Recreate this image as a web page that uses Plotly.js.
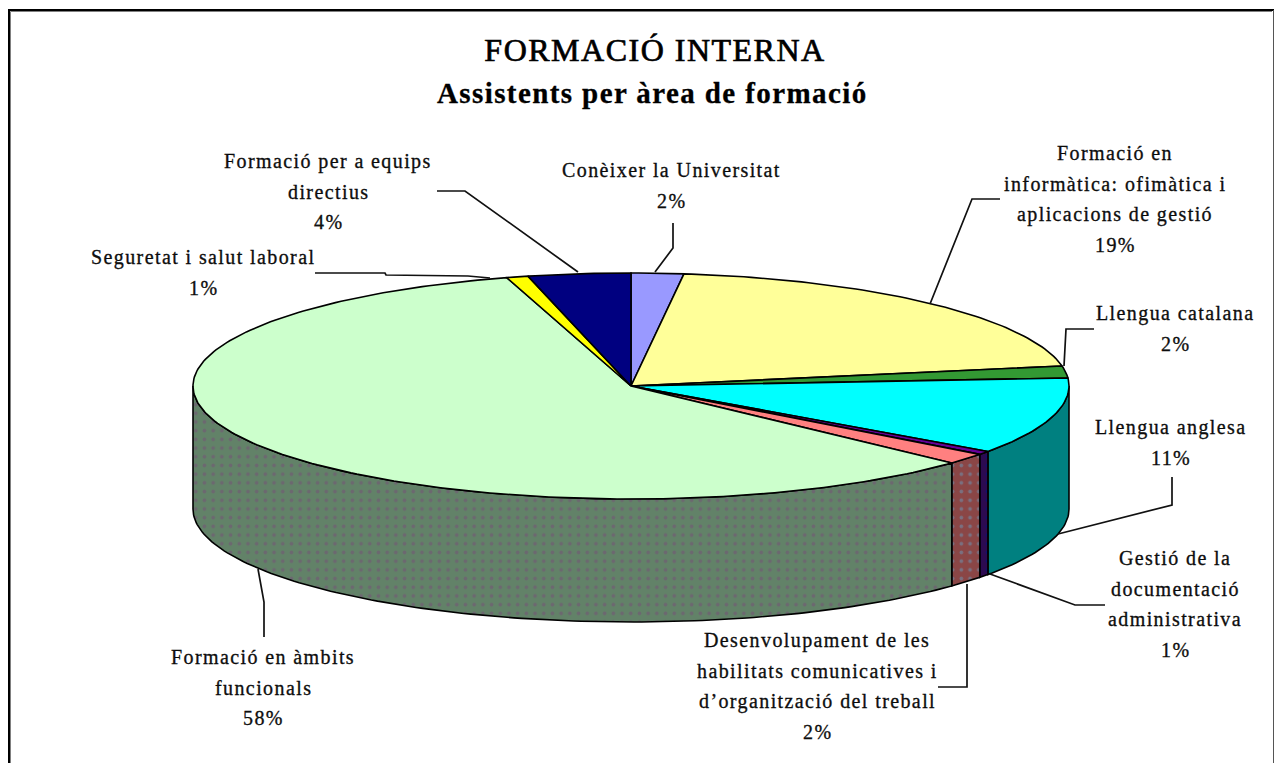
<!DOCTYPE html>
<html>
<head>
<meta charset="utf-8">
<script src="https://cdn.plot.ly/plotly-3.0.1.min.js"></script>
<style>
html,body{margin:0;padding:0;background:#fff;overflow:hidden}
#chart{width:1275px;height:763px}
.annotation-text{letter-spacing:1.4px;stroke:#000;stroke-width:0.3px}
.gtitle{letter-spacing:1.5px;stroke:#000;stroke-width:0.7px}
</style>
</head>
<body>
<div id="chart"></div>
<script>
// Data, clockwise from the top of the pie
const categories = ["Conèixer la Universitat","Formació en informàtica: ofimàtica i aplicacions de gestió","Llengua catalana","Llengua anglesa","Gestió de la documentació administrativa","Desenvolupament de les habilitats comunicatives i d’organització del treball","Formació en àmbits funcionals","Seguretat i salut laboral","Formació per a equips directius"];
// share of the circle as drawn in the picture
const drawnShare = [1.93,20.24,1.70,10.97,0.50,1.58,58.50,0.80,3.78];
const percentLabels = ["2%","19%","2%","11%","1%","2%","58%","1%","4%"];
const labelLines = [
  ["Conèixer la Universitat"],
  ["Formació en","informàtica: ofimàtica i","aplicacions de gestió"],
  ["Llengua catalana"],
  ["Llengua anglesa"],
  ["Gestió de la","documentació","administrativa"],
  ["Desenvolupament de les","habilitats comunicatives i","d’organització del treball"],
  ["Formació en àmbits","funcionals"],
  ["Seguretat i salut laboral"],
  ["Formació per a equips","directius"]
];
const topColors = ["#9999ff","#ffff99","#339933","#00ffff","#660099","#ff8080","#ccffcc","#ffff00","#000080"];
const wallBg = ["#4d4d99","#808050","#1a4d1a","#008080","#2c0a50","#8a4646","#628268","#808000","#000040"];
const wallDot = [null,null,null,null,"#10106e","#7a7080","#6c6870",null,null];

// Layout constants (pixel-scaled axes)
const cx=631, cy=386, rx=438, ry=113, depth=123;
const labelX=[671,1115,1175,1171,1175,817,263,203,328];
const labelY=[170,153,313,427,558,640,657,257,161];
const lineGap=30.6;
const leaders=[
  [[673,223],[673,248],[655,272]],
  [[1000,199],[972,199],[930,304]],
  [[1094,329],[1066,329],[1064,366]],
  [[1172,477],[1172,505],[1058,534]],
  [[1105,605],[1075,605],[990,574]],
  [[938,687],[967,687],[967,584]],
  [[264,637],[264,602],[258,569]],
  [[315,273],[385,273],[386,275],[468,276],[490,278]],
  [[437,191],[465,191],[578,272]]
];

const total=drawnShare.reduce((a,b)=>a+b,0);
let run=0;
const spans=drawnShare.map(v=>{const s=run/total*360; run+=v; return [s,run/total*360];});
const px=d=>cx+rx*Math.sin(d*Math.PI/180);
const py=d=>cy-ry*Math.cos(d*Math.PI/180);
function arc(a,b){const out=[];const n=Math.max(2,Math.ceil(Math.abs(b-a)));for(let i=0;i<=n;i++)out.push(a+(b-a)*i/n);return out;}

const traces=[];
// side walls (front half only)
spans.forEach(([s,e],i)=>{
  const a=Math.max(s,90), b=Math.min(e,270);
  if(b<=a) return;
  const ang=arc(a,b);
  const xs=ang.map(px).concat(ang.slice().reverse().map(px));
  const ys=ang.map(py).concat(ang.slice().reverse().map(d=>py(d)+depth));
  xs.push(xs[0]); ys.push(ys[0]);
  const t={type:"scatter",mode:"lines",x:xs,y:ys,fill:"toself",fillcolor:wallBg[i],
    line:{color:"#000",width:1.6},name:categories[i],hoverinfo:"name",showlegend:false};
  if(wallDot[i]) t.fillpattern={shape:".",fgcolor:wallDot[i],bgcolor:wallBg[i],size:8.7,solidity:0.14};
  traces.push(t);
});
// top faces
spans.forEach(([s,e],i)=>{
  const ang=arc(s,e);
  const xs=[cx].concat(ang.map(px),[cx]);
  const ys=[cy].concat(ang.map(py),[cy]);
  traces.push({type:"scatter",mode:"lines",x:xs,y:ys,fill:"toself",fillcolor:topColors[i],
    line:{color:"#000",width:1.6},name:categories[i],text:percentLabels[i],hoverinfo:"name+text",showlegend:false});
});
// leader lines
leaders.forEach((pts,i)=>{
  traces.push({type:"scatter",mode:"lines",x:pts.map(p=>p[0]),y:pts.map(p=>p[1]),
    line:{color:"#111",width:1.7},hoverinfo:"skip",showlegend:false});
});

const font={family:"'Liberation Serif',serif",size:20,color:"#111"};
const annotations=[];
labelLines.forEach((lines,i)=>{
  lines.concat([percentLabels[i]]).forEach((txt,j)=>{
    annotations.push({x:labelX[i],y:labelY[i]+j*lineGap,xref:"x",yref:"y",text:txt,showarrow:false,
      xanchor:"center",yanchor:"middle",font:font});
  });
});
annotations.push({x:652,y:93,xref:"x",yref:"y",text:"<b>Assistents per àrea de formació</b>",showarrow:false,
  xanchor:"center",yanchor:"middle",font:{family:"'Liberation Serif',serif",size:29,color:"#000"}});

const layout={
  width:1275,height:763,margin:{l:0,r:0,t:0,b:0},paper_bgcolor:"#fff",plot_bgcolor:"#fff",
  showlegend:false,
  title:{text:"FORMACIÓ INTERNA",x:655/1275,xanchor:"center",y:1-50/763,yanchor:"middle",
    font:{family:"'Liberation Serif',serif",size:32,color:"#000"}},
  xaxis:{range:[0,1275],visible:false,fixedrange:true},
  yaxis:{range:[763,0],visible:false,fixedrange:true},
  annotations:annotations,
  shapes:[
    {type:"path",path:"M 9 763 L 9 10 L 1274 10",line:{color:"#000",width:2}},
    {type:"path",path:"M 10.5 763 L 10.5 11.5 L 1272 11.5",line:{color:"#808080",width:1}},
    {type:"line",x0:1273.5,x1:1273.5,y0:10,y1:763,line:{color:"#555",width:1}}
  ]
};
Plotly.newPlot("chart",traces,layout,{displayModeBar:false});
</script>
</body>
</html>
